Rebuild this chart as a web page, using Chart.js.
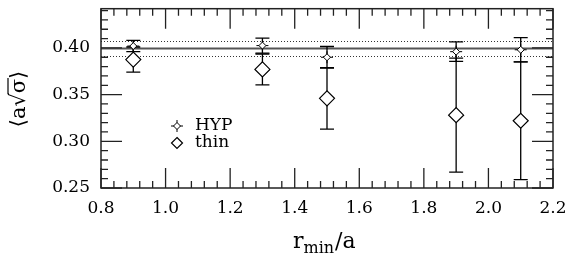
<!DOCTYPE html>
<html>
<head>
<meta charset="utf-8">
<script src="https://cdn.jsdelivr.net/npm/chart.js@4.4.0/dist/chart.umd.min.js"></script>
<style>
  html, body { margin: 0; padding: 0; background: #ffffff; }
  #wrap { width: 571px; height: 254px; }
</style>
</head>
<body>
<div id="wrap"><canvas id="chart" width="571" height="254"></canvas></div>
<script>
// values
var rmin = [0.9, 1.3, 1.5, 1.9, 2.1];
var hypValues = [0.4020, 0.4025, 0.3900, 0.3960, 0.3980];
var hypErrors = [0.0060, 0.0080, 0.0115, 0.0105, 0.0130];
var thinValues = [0.3875, 0.3770, 0.3460, 0.3280, 0.3220];
var thinErrors = [0.0135, 0.0165, 0.0330, 0.0610, 0.0630];

// fit band (solid = central value, dotted = error)
var fitValue = 0.3995;
var fitLow = 0.3910;
var fitHigh = 0.4075;

var xTicks = [0.8, 1.0, 1.2, 1.4, 1.6, 1.8, 2.0, 2.2];
var yTicks = [0.25, 0.30, 0.35, 0.40];
var xMinorStep = 0.04;
var yMinorStep = 0.01;
var xMin = 0.8, xMax = 2.2;
var yMin = 0.25, yMax = 0.442;

var serif = '"DejaVu Serif", serif';

function toPoints(xs, ys) {
  var pts = [];
  for (var i = 0; i < xs.length; i++) {
    pts.push({x: xs[i], y: ys[i]});
  }
  return pts;
}

// the spikes of the HYP symbol, the white diamond is drawn on top by chart.js
function hypCross(ctx, x, y) {
  ctx.beginPath();
  ctx.moveTo(x, y - 6); ctx.lineTo(x, y + 6);
  ctx.moveTo(x - 6, y); ctx.lineTo(x + 6, y);
  ctx.stroke();
}

function drawDiamond(ctx, x, y, r) {
  ctx.beginPath();
  ctx.moveTo(x, y - r);
  ctx.lineTo(x + r, y);
  ctx.lineTo(x, y + r);
  ctx.lineTo(x - r, y);
  ctx.closePath();
  ctx.fillStyle = '#fff';
  ctx.fill();
  ctx.stroke();
}

function errorBars(ctx, xs, ys, errs, sx, sy) {
  for (var i = 0; i < xs.length; i++) {
    var px = sx.getPixelForValue(xs[i]);
    var top = sy.getPixelForValue(ys[i] + errs[i]);
    var bot = sy.getPixelForValue(ys[i] - errs[i]);
    ctx.beginPath();
    ctx.moveTo(px, top); ctx.lineTo(px, bot);
    ctx.moveTo(px - 7, top); ctx.lineTo(px + 7, top);
    ctx.moveTo(px - 7, bot); ctx.lineTo(px + 7, bot);
    ctx.stroke();
  }
}

var plotExtras = {
  id: 'plotExtras',
  beforeDatasetsDraw: function(chart) {
    var ctx = chart.ctx;
    var a = chart.chartArea;
    var sx = chart.scales.x, sy = chart.scales.y;
    ctx.save();
    // fit lines
    ctx.strokeStyle = '#555';
    ctx.lineWidth = 2;
    ctx.beginPath();
    ctx.moveTo(a.left, sy.getPixelForValue(fitValue));
    ctx.lineTo(a.right, sy.getPixelForValue(fitValue));
    ctx.stroke();
    ctx.strokeStyle = '#333';
    ctx.lineWidth = 1;
    ctx.setLineDash([1, 2]);
    [fitLow, fitHigh].forEach(function(v) {
      var py = Math.round(sy.getPixelForValue(v)) + 0.5;
      ctx.beginPath();
      ctx.moveTo(a.left, py);
      ctx.lineTo(a.right, py);
      ctx.stroke();
    });
    ctx.setLineDash([]);
    // error bars
    ctx.strokeStyle = '#000';
    ctx.lineWidth = 1.3;
    errorBars(ctx, rmin, thinValues, thinErrors, sx, sy);
    errorBars(ctx, rmin, hypValues, hypErrors, sx, sy);
    ctx.lineWidth = 1;
    for (var i = 0; i < rmin.length; i++) {
      hypCross(ctx, sx.getPixelForValue(rmin[i]), sy.getPixelForValue(hypValues[i]));
    }
    ctx.restore();
  },
  afterDraw: function(chart) {
    var ctx = chart.ctx;
    var a = chart.chartArea;
    var sx = chart.scales.x, sy = chart.scales.y;
    ctx.save();
    ctx.strokeStyle = '#222';
    ctx.lineWidth = 1.5;
    ctx.strokeRect(a.left, a.top, a.right - a.left, a.bottom - a.top);

    // inside ticks on all four sides
    ctx.lineWidth = 1.3;
    ctx.beginPath();
    xTicks.forEach(function(v) {
      var px = sx.getPixelForValue(v);
      ctx.moveTo(px, a.bottom); ctx.lineTo(px, a.bottom - 20);
      ctx.moveTo(px, a.top); ctx.lineTo(px, a.top + 20);
    });
    for (var v = xMin; v < xMax - 1e-6; v += xMinorStep) {
      var px = sx.getPixelForValue(v);
      ctx.moveTo(px, a.bottom); ctx.lineTo(px, a.bottom - 7);
      ctx.moveTo(px, a.top); ctx.lineTo(px, a.top + 7);
    }
    yTicks.forEach(function(v) {
      var py = sy.getPixelForValue(v);
      ctx.moveTo(a.left, py); ctx.lineTo(a.left + 21, py);
      ctx.moveTo(a.right, py); ctx.lineTo(a.right - 21, py);
    });
    for (var w = yMin; w < yMax; w += yMinorStep) {
      var py = sy.getPixelForValue(w);
      ctx.moveTo(a.left, py); ctx.lineTo(a.left + 7, py);
      ctx.moveTo(a.right, py); ctx.lineTo(a.right - 7, py);
    }
    ctx.stroke();

    // legend
    ctx.strokeStyle = '#000';
    ctx.lineWidth = 1;
    hypCross(ctx, 177, 126);
    drawDiamond(ctx, 177, 126, 3.5);
    ctx.lineWidth = 1.2;
    drawDiamond(ctx, 177, 143, 5.5);
    ctx.fillStyle = '#000';
    ctx.font = '17px ' + serif;
    ctx.textAlign = 'left';
    ctx.textBaseline = 'middle';
    ctx.fillText('HYP', 195, 126);
    ctx.fillText('thin', 195, 143);

    // x title  r_min / a
    ctx.textBaseline = 'alphabetic';
    ctx.font = '22px ' + serif;
    var tx = 293;
    ctx.fillText('r', tx, 248);
    tx += ctx.measureText('r').width;
    ctx.font = '16px ' + serif;
    ctx.fillText('min', tx, 253);
    tx += ctx.measureText('min').width + 1;
    ctx.font = '22px ' + serif;
    ctx.fillText('/a', tx, 248);

    // y title  <a sqrt(sigma)>
    ctx.translate(20, 99);
    ctx.rotate(-Math.PI / 2);
    ctx.font = '21px ' + serif;
    var s1 = '\u27E8a\u221A';
    var s2 = '\u03C3';
    var s3 = '\u27E9';
    var total = ctx.measureText(s1 + s2 + s3).width;
    var ox = -total / 2;
    ctx.textBaseline = 'middle';
    ctx.fillText(s1, ox, 0);
    var w1 = ctx.measureText(s1).width;
    ctx.fillText(s2, ox + w1, 0);
    var w2 = ctx.measureText(s2).width;
    ctx.fillText(s3, ox + w1 + w2, 0);
    ctx.lineWidth = 1.2;
    ctx.beginPath();
    ctx.moveTo(ox + w1 - 1, -12);
    ctx.lineTo(ox + w1 + w2 + 1, -12);
    ctx.stroke();
    ctx.restore();
  }
};

var config = {
  type: 'scatter',
  data: {
    datasets: [
      {
        label: 'thin',
        data: toPoints(rmin, thinValues),
        pointStyle: 'rectRot',
        pointRadius: 7.5,
        pointBorderWidth: 1.2,
        pointBorderColor: '#000',
        pointBackgroundColor: '#fff'
      },
      {
        label: 'HYP',
        data: toPoints(rmin, hypValues),
        pointStyle: 'rectRot',
        pointRadius: 3.5,
        pointBorderWidth: 1,
        pointBorderColor: '#000',
        pointBackgroundColor: '#fff'
      }
    ]
  },
  plugins: [plotExtras],
  options: {
    responsive: false,
    animation: false,
    devicePixelRatio: 1,
    layout: { padding: { top: 8, right: 18, left: 0, bottom: 0 } },
    plugins: {
      legend: { display: false },
      tooltip: { enabled: false }
    },
    scales: {
      x: {
        type: 'linear',
        min: xMin,
        max: xMax,
        afterBuildTicks: function(scale) {
          scale.ticks = xTicks.map(function(v) { return {value: v}; });
        },
        afterFit: function(scale) {
          scale.height = 66;
          scale.paddingLeft = 0;
          scale.paddingRight = 0;
        },
        ticks: {
          callback: function(v) { return v.toFixed(1); },
          font: { family: serif, size: 17 },
          color: '#000',
          padding: 10,
          maxRotation: 0
        },
        grid: { display: false, drawTicks: false },
        border: { display: false }
      },
      y: {
        type: 'linear',
        min: yMin,
        max: yMax,
        afterBuildTicks: function(scale) {
          scale.ticks = yTicks.map(function(v) { return {value: v}; });
        },
        afterFit: function(scale) {
          scale.width = 101;
          scale.paddingTop = 0;
          scale.paddingBottom = 0;
        },
        ticks: {
          callback: function(v) { return v.toFixed(2); },
          font: { family: serif, size: 17 },
          color: '#000',
          padding: 11
        },
        grid: { display: false, drawTicks: false },
        border: { display: false }
      }
    }
  }
};

var chart = new Chart(document.getElementById('chart'), config);
</script>
</body>
</html>
